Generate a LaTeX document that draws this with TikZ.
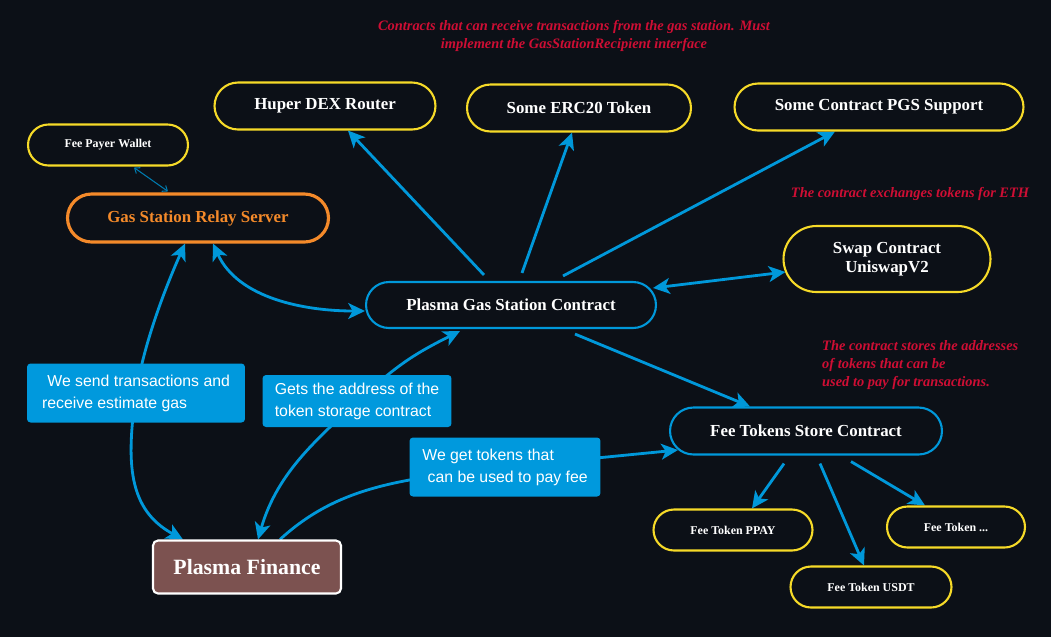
\documentclass[tikz,border=0pt]{standalone}
\usepackage{fontspec}
\setmainfont{Liberation Serif}
\newfontfamily\labelfont{Liberation Sans}
\usetikzlibrary{shapes.misc,arrows.meta,backgrounds}
\definecolor{bgdark}{RGB}{12,16,23}
\definecolor{pgsyellow}{RGB}{246,218,40}
\definecolor{pgsorange}{RGB}{244,138,42}
\definecolor{pgsblue}{RGB}{0,152,218}
\definecolor{labelblue}{RGB}{0,153,221}
\definecolor{notered}{RGB}{206,14,52}
\definecolor{financebrown}{RGB}{124,82,80}
\newcommand{\pgsnode}[4]{\node at (#1) (#2) [contract, #3] {#4};}
\newcommand{\pgslabel}[4]{\node at (#1) (#2) [stepnote, #3] {#4};}
\tikzset{
  contract/.style={rounded rectangle, draw=pgsyellow, line width=1.2pt, text=white, align=center, inner sep=0pt, font=\bfseries\fontsize{9.6}{11}\selectfont},
  smalltext/.style={font=\bfseries\fontsize{6.8}{8}\selectfont},
  bluecontract/.style={draw=pgsblue},
  stepnote/.style={rectangle, fill=labelblue, rounded corners=0.07cm, text=white, align=left, inner sep=0pt, font=\labelfont\fontsize{9}{12.5}\selectfont},
  remark/.style={text=notered, font=\bfseries\itshape\fontsize{8.2}{10.3}\selectfont},
  flow/.style={draw=pgsblue, line width=1.6pt},
  >={Stealth[length=9.5pt,width=9pt,inset=2.5pt]}
}
\begin{document}
\begin{tikzpicture}[x=0.02cm, y=-0.02cm]

\useasboundingbox (0,0) rectangle (1051,637);

\pgsnode{108,145}{wallet}{smalltext, minimum width=3.2cm, minimum height=0.82cm}{Fee Payer Wallet}
\pgsnode{198,218}{relay}{draw=pgsorange, line width=1.8pt, text=pgsorange, minimum width=5.22cm, minimum height=0.96cm}{Gas Station Relay Server}
\pgsnode{325,106}{dex}{minimum width=4.42cm, minimum height=0.94cm}{Huper DEX Router}
\pgsnode{579,108}{erc}{minimum width=4.48cm, minimum height=0.94cm}{Some ERC20 Token}
\pgsnode{879,107}{pgs}{minimum width=5.78cm, minimum height=0.94cm}{Some Contract PGS Support}
\pgsnode{887,259}{swap}{minimum width=4.14cm, minimum height=1.32cm}{Swap Contract\\UniswapV2}
\pgsnode{511,305}{gsc}{bluecontract, minimum width=5.8cm, minimum height=0.92cm}{Plasma Gas Station Contract}
\pgsnode{806,431}{store}{bluecontract, minimum width=5.44cm, minimum height=0.94cm}{Fee Tokens Store Contract}
\pgsnode{733,530}{ppay}{smalltext, minimum width=3.18cm, minimum height=0.82cm}{Fee Token PPAY}
\pgsnode{871,587}{usdt}{smalltext, minimum width=3.22cm, minimum height=0.82cm}{Fee Token USDT}
\pgsnode{956,527}{tokmore}{smalltext, minimum width=2.76cm, minimum height=0.82cm}{Fee Token ...}
\node at (247,567) (finance) [rectangle, rounded corners=0.1cm, draw=white, line width=1.2pt, fill=financebrown, text=white, minimum width=3.76cm, minimum height=1.06cm, font=\bfseries\fontsize{12.4}{14}\selectfont] {Plasma Finance};

\pgslabel{136,393}{lblsend}{minimum width=4.36cm, minimum height=1.18cm}{\hspace*{3pt}We send transactions and\\receive estimate gas}
\pgslabel{357,401}{lblgets}{minimum width=3.78cm, minimum height=1.04cm}{Gets the address of the\\token storage contract}
\pgslabel{505,467}{lblfee}{minimum width=3.82cm, minimum height=1.18cm}{We get tokens that\\\hspace*{3pt}can be used to pay fee}

\node at (574,36) (notetop) [remark, align=center] {Contracts that can receive transactions from the gas station. Must\\implement the GasStationRecipient interface};
\node at (910,194) (noteswap) [remark] {The contract exchanges tokens for ETH};
\node at (816,365) (notestore) [remark, anchor=west, align=left] {The contract stores the addresses\\of tokens that can be\\used to pay for transactions.};

\begin{pgfonlayer}{background}
\fill[bgdark] (0,0) rectangle (1051,637);

\draw[pgsblue!80!black, line width=0.6pt, {Straight Barb[length=2.5pt,width=4pt]}-{Straight Barb[length=2.5pt,width=4pt]}] ([shift={(26,1)}]wallet.south) -- ([shift={(-30,-1)}]relay.north);

\draw[flow, ->] ([shift={(-27,-6)}]gsc.north) -- ([shift={(23,0)}]dex.south);
\draw[flow, ->] ([shift={(11,-8)}]gsc.north) -- ([shift={(-7,0)}]erc.south);
\draw[flow, ->] ([shift={(52,-5)}]gsc.north) -- ([shift={(-44,0)}]pgs.south);
\draw[flow, <->] ([shift={(-4,-17)}]gsc.east) -- ([shift={(3,13)}]swap.west);
\draw[flow, ->] ([shift={(64,5)}]gsc.south) -- ([shift={(-56,0)}]store.north);

\draw[flow, ->] ([shift={(-22,8)}]store.south) -- ([shift={(19,0)}]ppay.north);
\draw[flow, ->] ([shift={(14,8)}]store.south) -- ([shift={(-7,0)}]usdt.north);
\draw[flow, ->] ([shift={(45,6)}]store.south) -- ([shift={(-31,0)}]tokmore.north);

\draw[flow, <->] ([shift={(15,0)}]relay.south) .. controls +(25,55) and +(-60,0) .. ([shift={(0,6)}]gsc.west);
\draw[flow, <->] ([shift={(-64,0)}]finance.north) .. controls +(-55,-30) and +(-10,70) .. (lblsend.center) .. controls +(8,-50) and +(-20,45) .. ([shift={(-13,0)}]relay.south);
\draw[flow, <->] ([shift={(-51,2)}]gsc.south) .. controls +(-50,25) and +(40,-35) .. (lblgets.center) .. controls +(-35,35) and +(20,-70) .. ([shift={(11,0)}]finance.north);
\draw[flow, ->] ([shift={(33,0)}]finance.north) .. controls +(60,-55) and +(-100,12) .. (lblfee.center) -- ([shift={(9,19)}]store.west);
\end{pgfonlayer}

\end{tikzpicture}
\end{document}
